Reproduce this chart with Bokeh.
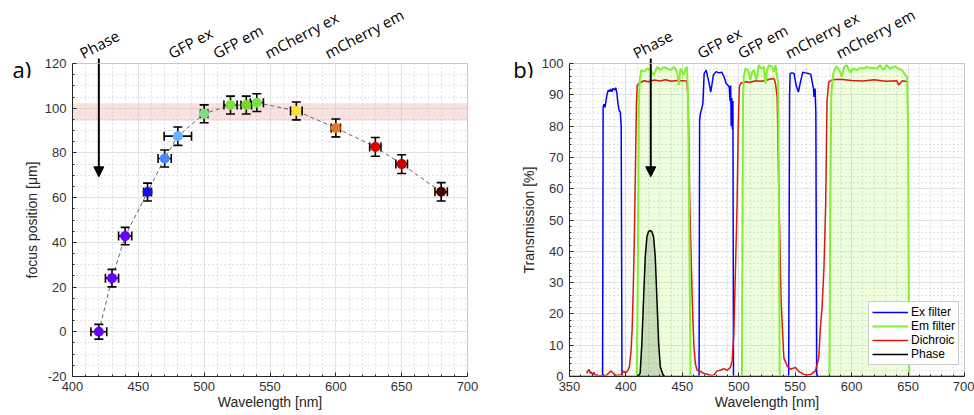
from bokeh.plotting import figure
from bokeh.models import (Whisker, TeeHead, Arrow, NormalHead, BoxAnnotation,
                          Legend, LegendItem, ColumnDataSource, FixedTicker, Range1d)
from bokeh.core.properties import value
from bokeh.layouts import row, column
from bokeh.embed import file_html
from bokeh.resources import INLINE

# ---------------- data: panel a ----------------
wavelength = [420, 430, 440, 457, 470, 480, 500, 520, 532, 540, 570, 600, 630, 650, 680]
focus = [0, 24, 42.8, 62.5, 77.5, 87.5, 97.5, 101.4, 101.4, 102.5, 98.8, 91.2, 82.7, 75, 62.6]
x_err = [6, 5, 5, 3, 5, 10.4, 2.8, 5, 4, 5, 4.4, 3.5, 4.3, 4.4, 4.7]
y_err = [3.3, 3.9, 3.9, 4, 3.8, 4.1, 4, 4, 4, 4, 4, 4, 4.2, 4.2, 4.1]
point_colors = ["#6a00ff", "#6a00ff", "#6a00ff", "#1010e8", "#4a86ff", "#62b4ff", "#7fdc7f",
                "#7ee040", "#74d828", "#7ee040", "#ffe030", "#e87818", "#e00000", "#cc0000", "#520000"]
band_low, band_high = 94.4, 102.2
filter_names = ["Phase", "GFP ex", "GFP em", "mCherry ex", "mCherry em"]
names_x_a = [406.3, 473.4, 507.5, 546.8, 592.3]
names_x_b = [407, 464, 500, 542, 587]
phase_wl_a = 420
phase_wl_b = 422

# ---------------- data: panel b (wavelength nm, transmission %) ----------------
ex_filter = [
    (350, 0), (379.3, 0), (379.8, 86), (380.5, 87), (381.5, 86), (382.5, 88.5), (383.5, 90.5),
    (384.5, 91.5), (385.5, 91), (386.5, 91.8), (387.5, 91), (388.5, 92), (390, 91.6), (391, 92.2),
    (392, 90.5), (393, 87), (394, 85), (395, 84.5), (395.8, 80), (396.5, 0),
    (464.8, 0), (465.3, 82), (466, 84), (466.7, 85), (468.2, 87.2), (469.3, 96.8), (471.1, 97.9),
    (473.1, 94.7), (475.2, 90.9), (477.5, 96.3), (479.9, 97.4), (482.3, 97), (485, 97.2),
    (487, 95.7), (488.8, 93.6), (490, 93.2), (491.5, 92.5), (492.3, 88), (492.8, 93), (493.3, 80),
    (493.8, 89), (494.3, 79), (494.8, 88), (495.3, 0),
    (544.2, 0), (545, 90), (545.5, 96.8), (547, 97), (549, 96.8), (550.8, 93.1), (552.8, 90.9),
    (555, 94.7), (556.7, 97.2), (559, 97), (561.7, 96.8), (563.8, 96.6), (565.3, 93.6),
    (566.2, 91.9), (566.7, 89.3), (567.6, 92), (568.3, 84), (569, 0), (700, 0)]

em_filter = [
    (350, 0), (409.5, 0), (410.5, 30), (411.5, 88), (412.3, 94.7), (413.5, 97.9), (415.9, 97.4),
    (418.8, 98.4), (421.8, 97.9), (424.7, 96.3), (427.7, 98.9), (430.6, 97.9), (433.6, 98.9),
    (436.5, 98.4), (439.5, 97.9), (442.4, 98.9), (445.4, 97.4), (446.9, 93.1), (448.3, 98.4),
    (451.3, 96.3), (452.8, 98.4), (454.2, 98.9), (455.1, 88), (456.3, 40), (457.3, 0),
    (502.8, 0), (503.4, 60), (503.8, 90), (504.4, 95.7), (505.9, 98.4), (508.3, 97.9),
    (510.3, 94.7), (511.8, 97.3), (513.3, 97.9), (515.7, 94.7), (517.7, 99.5), (519.8, 98.4),
    (522.2, 98.9), (523.6, 93.6), (525.1, 97.9), (526.6, 99.5), (529.5, 98.9), (531, 97.4),
    (532.5, 99.5), (534, 95.7), (534.9, 93.6), (535.5, 60), (536.3, 0),
    (580.3, 0), (581.2, 60), (582, 90), (583, 94.7), (583.8, 96.8), (586.2, 99.1), (589.2, 97.9),
    (591.3, 95.7), (593.3, 98.9), (595.7, 99.5), (598.6, 97.2), (601.6, 98.4), (604.8, 97.9),
    (607.5, 98.6), (610.7, 98.4), (613.4, 98.9), (616.6, 98.6), (619.3, 98.6), (622.5, 98.4),
    (625.2, 99.5), (628.1, 97.9), (631.1, 99.5), (634, 98.4), (638.5, 99.1), (641.4, 98.4),
    (644.7, 97.9), (647.6, 96.3), (649.1, 95.7), (650, 80), (651, 0), (700, 0)]

dichroic = [
    (365.1, 1.0), (367.1, 2.3), (368.5, 1.0), (369.2, 1.5), (370.5, 0.5), (371.6, 1.3), (373, 0.3),
    (374.5, 0.5), (376, 0.2), (377.5, 0.3), (380, 0.2), (383, 0.5), (386.9, 1.8), (389.3, 0.8),
    (391, 0.4), (393.7, 0.5), (396, 0.6), (398.2, 1.8), (399.5, 1.2), (401.1, 1.5), (403, 3),
    (404.5, 8), (405.5, 15), (406.5, 28), (407.5, 45), (408.5, 68), (409.3, 87), (410, 93),
    (413, 94), (416, 94.5), (420, 94.2), (425, 94.7), (430, 94.4), (435, 94.8), (440, 94.3),
    (445, 94.6), (450, 94.5), (454, 94.4), (455.2, 88), (456.6, 55), (458.7, 25), (460.2, 10),
    (461.6, 4), (463.1, 2), (466, 1.6), (469, 1.0), (472, 0.7), (475, 0.4), (477.9, 0.5),
    (480.8, 1.8), (483.8, 2.0), (486.7, 2.5), (489.7, 2.0), (492.6, 2.9), (494.1, 5), (495.6, 13.5),
    (497.1, 35), (498.5, 55), (499.5, 80), (500.5, 92.5), (502, 93.8), (506, 94.2), (510, 94.0),
    (515, 94.5), (520, 94.3), (525, 94.7), (530, 95.2), (531.5, 95), (532.5, 93.6), (534, 89.4),
    (535.7, 56), (537.5, 24), (539.9, 6), (542.8, 3.4), (545.8, 2.3), (550.2, 2.9), (553.2, 1.6),
    (557.6, 0.7), (560, 0.5), (563.5, 0.6), (567.9, 1.8), (570.9, 6), (572.3, 15.7), (573.8, 22),
    (575.5, 35), (577, 55), (578.2, 88), (579.7, 94.1), (583, 94.8), (590, 95), (600, 94.6),
    (610, 94.4), (620, 94.8), (630, 94.3), (640, 94.5), (641.7, 93.1), (645, 94.5), (650, 94.2)]

phase = [
    (410.5, 0), (412.6, 1), (414.1, 10.5), (415.6, 24.4), (417.1, 38.2), (418.6, 44.6),
    (420, 46.3), (421.5, 46.7), (423, 46.3), (424.5, 44.6), (426, 38.2), (427.5, 24.4),
    (429, 10.5), (430.5, 3), (432.6, 0.8), (434, 0)]

FONT = "Liberation Sans"
TXT = "#262626"

# ---------------- layout constants (pixels) ----------------
FRAME_W, FRAME_H = 395, 313
HEAD_H = 78          # header strip height
TOP_B = 14           # main figure border above frame
BOT_B = 38
FRAME_TOP = 63       # page y of frame top
MAIN_TOP = FRAME_TOP - TOP_B
PANEL_W = 487


def split(pairs):
    return [a for a, _ in pairs], [b for _, b in pairs]


def style(p, xt, xm, yt, ym, ylabel):
    p.xaxis.ticker = FixedTicker(ticks=xt, minor_ticks=xm)
    p.yaxis.ticker = FixedTicker(ticks=yt, minor_ticks=ym)
    for ax in (p.xaxis[0], p.yaxis[0]):
        ax.axis_line_color = TXT
        ax.major_tick_in = 4
        ax.major_tick_out = 0
        ax.minor_tick_in = 2
        ax.minor_tick_out = 0
        ax.major_tick_line_color = TXT
        ax.minor_tick_line_color = TXT
        ax.major_label_text_font = FONT
        ax.major_label_text_font_size = "13px"
        ax.major_label_text_color = "#333333"
        ax.axis_label_text_font = FONT
        ax.axis_label_text_font_size = "14px"
        ax.axis_label_text_font_style = "normal"
        ax.axis_label_text_color = TXT
    p.xaxis.major_label_standoff = 5
    p.yaxis.major_label_standoff = 6
    p.yaxis.major_label_overrides = {v: str(v) for v in yt}
    p.yaxis.axis_label = ylabel
    p.yaxis.axis_label_standoff = 2
    p.xaxis.axis_label = "Wavelength [nm]"
    p.xaxis.axis_label_standoff = 0
    for g in (p.xgrid[0], p.ygrid[0]):
        g.grid_line_color = "#e2e2e2"
        g.grid_line_width = 1
        g.minor_grid_line_color = "#c4c4c4"
        g.minor_grid_line_dash = "1 3"
        g.minor_grid_line_width = 1
    p.outline_line_color = "#c8c8c8"
    p.background_fill_color = "white"
    p.border_fill_alpha = 0


def make_main(xr, yr, left_b):
    p = figure(width=PANEL_W, height=TOP_B + FRAME_H + BOT_B, x_range=xr, y_range=yr,
               output_backend="svg", toolbar_location=None,
               min_border_left=left_b, min_border_right=PANEL_W - left_b - FRAME_W,
               min_border_top=TOP_B, min_border_bottom=BOT_B)
    p.margin = (-(HEAD_H - MAIN_TOP), 0, 0, 0)
    p.frame_align = False
    return p


def make_header(xr, left_b):
    s = (xr.end - xr.start) / FRAME_W
    right_b = PANEL_W - left_b - FRAME_W
    h = figure(width=PANEL_W, height=HEAD_H,
               x_range=Range1d(xr.start - left_b * s, xr.end + right_b * s),
               y_range=Range1d(FRAME_TOP - HEAD_H, FRAME_TOP),
               output_backend="svg", toolbar_location=None,
               x_axis_type=None, y_axis_type=None,
               min_border_left=0, min_border_right=0, min_border_top=0, min_border_bottom=0)
    h.frame_align = False
    h.grid.visible = False
    h.outline_line_color = None
    h.background_fill_alpha = 0
    h.border_fill_alpha = 0
    return h


def add_header_texts(h, names_x, tag, tag_x, arrow_x):
    h.text(x=names_x, y=[9.5] * len(names_x), text=filter_names, angle=28, angle_units="deg",
           text_font=value("Open Sans"), text_font_size="15px", text_color="black",
           text_align="left", text_baseline="alphabetic")
    h.text(x=[tag_x], y=[-5], text=[tag], text_font=value("Open Sans"), text_font_size="22px",
           text_color="black", text_align="left", text_baseline="alphabetic")
    h.segment(x0=[arrow_x], y0=[5], x1=[arrow_x], y1=[-1], line_color="black", line_width=2)


# ================= panel a =================
xr1, yr1 = Range1d(400, 700), Range1d(-20, 120)
p1 = make_main(xr1, yr1, 72)
style(p1, list(range(400, 701, 50)), [v for v in range(400, 701, 10) if v % 50],
      list(range(-20, 121, 20)), [v for v in range(-20, 121, 5) if v % 20], "focus position [μm]")

p1.add_layout(BoxAnnotation(bottom=band_low, top=band_high, fill_color="#e9a9a9", fill_alpha=0.35,
                            line_color=None, level="underlay"))

src = ColumnDataSource(dict(
    x=wavelength, y=focus, c=point_colors,
    xl=[a - b for a, b in zip(wavelength, x_err)], xu=[a + b for a, b in zip(wavelength, x_err)],
    yl=[a - b for a, b in zip(focus, y_err)], yu=[a + b for a, b in zip(focus, y_err)]))

p1.line("x", "y", source=src, line_color="#404040", line_width=0.8, line_dash="4 3")
for base, lo, up, dim in (("x", "yl", "yu", "height"), ("y", "xl", "xu", "width")):
    p1.add_layout(Whisker(source=src, base=base, lower=lo, upper=up, dimension=dim,
                          line_color="black", line_width=1.6,
                          lower_head=TeeHead(size=9, line_width=1.6, line_color="black"),
                          upper_head=TeeHead(size=9, line_width=1.6, line_color="black")))
p1.scatter("x", "y", source=src, marker="circle", size=10, fill_color="c", line_color=None)
p1.add_layout(Arrow(x_start=phase_wl_a, y_start=120, x_end=phase_wl_a, y_end=69.3,
                    line_color="black", line_width=2,
                    end=NormalHead(size=10, fill_color="black", line_color="black")))

h1 = make_header(xr1, 72)
add_header_texts(h1, names_x_a, "a)", 354.4, phase_wl_a)

# ================= panel b =================
xr2, yr2 = Range1d(350, 700), Range1d(0, 100)
p2 = make_main(xr2, yr2, 82)
style(p2, list(range(350, 701, 50)), [v for v in range(350, 701, 10) if v % 50],
      list(range(0, 101, 10)), [v for v in range(0, 101, 2) if v % 10], "Transmission [%]")

ex_x, ex_y = split(ex_filter)
em_x, em_y = split(em_filter)
dc_x, dc_y = split(dichroic)
ph_x, ph_y = split(phase)

p2.varea(x=em_x, y1=[0] * len(em_x), y2=em_y, fill_color="#7fff00", fill_alpha=0.13)
p2.varea(x=ph_x, y1=[0] * len(ph_x), y2=ph_y, fill_color="#6b8a5e", fill_alpha=0.28)
r_ex = p2.line(ex_x, ex_y, line_color="#0000ff", line_width=1.5)
r_dc = p2.line(dc_x, dc_y, line_color="#dd1a0a", line_width=1.5)
r_em = p2.line(em_x, em_y, line_color="#80f030", line_width=2)
r_ph = p2.line(ph_x, ph_y, line_color="black", line_width=1.5)

legend = Legend(items=[LegendItem(label="Ex filter", renderers=[r_ex]),
                       LegendItem(label="Em filter", renderers=[r_em]),
                       LegendItem(label="Dichroic", renderers=[r_dc]),
                       LegendItem(label="Phase", renderers=[r_ph])],
                location=(299, 11), padding=3, spacing=0, margin=0,
                label_height=14, glyph_height=14, glyph_width=36, label_standoff=3,
                label_text_font=FONT, label_text_font_size="12px", label_text_color="black",
                border_line_color="#9a9a9a", border_line_width=1,
                background_fill_color="white", background_fill_alpha=1)
p2.add_layout(legend)
p2.add_layout(Arrow(x_start=phase_wl_b, y_start=100, x_end=phase_wl_b, y_end=63.8,
                    line_color="black", line_width=2,
                    end=NormalHead(size=10, fill_color="black", line_color="black")))

h2 = make_header(xr2, 82)
add_header_texts(h2, names_x_b, "b)", 300.2, phase_wl_b)

layout = row(column(h1, p1), column(h2, p2))
open("out.html", "w").write(file_html(layout, INLINE))
